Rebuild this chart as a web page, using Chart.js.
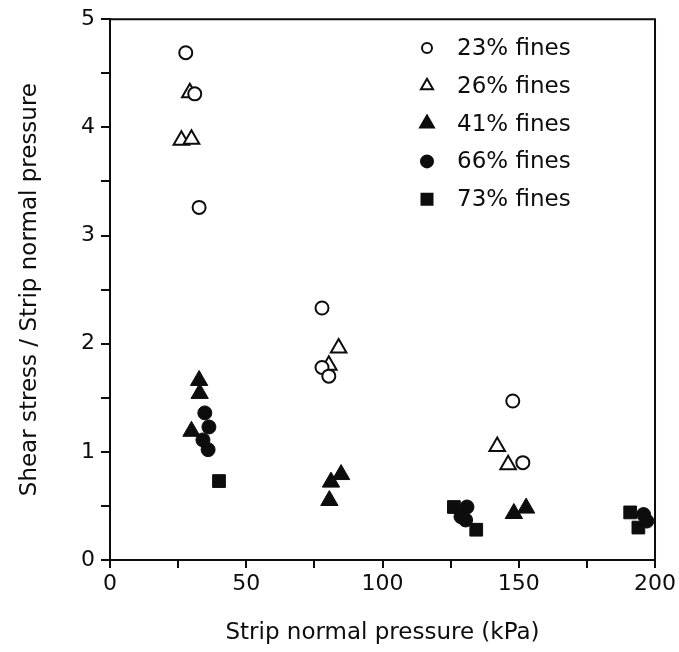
<!DOCTYPE html>
<html>
<head>
<meta charset="utf-8">
<script src="https://cdn.jsdelivr.net/npm/chart.js@4.4.0/dist/chart.umd.min.js"></script>
<style>
  html, body { margin: 0; padding: 0; background: #fff; }
  #wrap { width: 679px; height: 652px; }
</style>
</head>
<body>
<div id="wrap"><canvas id="shearChart" width="679" height="652"></canvas></div>
<script>
// values
const seriesLabels = ["23% fines", "26% fines", "41% fines", "66% fines", "73% fines"];

const fines23X = [27.8, 31.1, 32.7, 77.8, 77.8, 80.3, 147.8, 151.5];
const fines23Y = [4.69, 4.31, 3.26, 2.33, 1.78, 1.70, 1.47, 0.90];

const fines26X = [29.3, 26.2, 29.9, 83.9, 80.3, 142.1, 146.1];
const fines26Y = [4.32, 3.88, 3.89, 1.96, 1.80, 1.05, 0.88];

const fines41X = [32.7, 32.9, 29.9, 84.8, 81.1, 80.5, 148.2, 152.7];
const fines41Y = [1.66, 1.54, 1.19, 0.79, 0.72, 0.55, 0.43, 0.48];

const fines66X = [34.8, 36.3, 34.1, 36.0, 131.0, 128.8, 130.5, 195.8, 197.0];
const fines66Y = [1.36, 1.23, 1.11, 1.02, 0.49, 0.40, 0.37, 0.42, 0.36];

const fines73X = [40.0, 126.2, 134.4, 190.9, 193.9];
const fines73Y = [0.73, 0.49, 0.28, 0.44, 0.30];

const xTickLabels = [0, 50, 100, 150, 200];
const yTickLabels = [0, 1, 2, 3, 4, 5];

const FONT = "'DejaVu Sans', 'Liberation Sans', Arial, sans-serif";
const INK = "#0d0d0d";

const toPoints = (xs, ys) => xs.map((x, i) => ({ x: x, y: ys[i] }));

// legend drawn inside the plot, top right
const innerLegend = {
    id: "innerLegend",
    afterDraw(chart) {
        const ctx = chart.ctx;
        const x0 = 427, xText = 457, y0 = 48, step = 37.8;
        ctx.save();
        ctx.font = "23px " + FONT;
        ctx.textBaseline = "middle";
        chart.data.datasets.forEach((ds, i) => {
            const y = y0 + i * step;
            const hollow = ds.backgroundColor === "#fff";
            ctx.beginPath();
            ctx.lineWidth = 2;
            ctx.strokeStyle = INK;
            ctx.fillStyle = hollow ? "#fff" : INK;
            if (ds.pointStyle === "circle") {
                ctx.arc(x0, y, hollow ? 5 : 6, 0, Math.PI * 2);
            } else if (ds.pointStyle === "triangle") {
                const r = hollow ? 7 : 8;
                ctx.moveTo(x0, y - r);
                ctx.lineTo(x0 + r * 0.866, y + r / 2);
                ctx.lineTo(x0 - r * 0.866, y + r / 2);
                ctx.closePath();
            } else {
                ctx.rect(x0 - 5.5, y - 5.5, 11, 11);
            }
            ctx.fill();
            ctx.stroke();
            ctx.fillStyle = INK;
            ctx.fillText(ds.label, xText, y + 1);
        });
        ctx.restore();
    }
};

// top and right frame lines
const frame = {
    id: "frame",
    beforeDatasetsDraw(chart) {
        const a = chart.chartArea;
        const ctx = chart.ctx;
        ctx.save();
        ctx.strokeStyle = INK;
        ctx.lineWidth = 2;
        ctx.beginPath();
        ctx.moveTo(a.left, a.top);
        ctx.lineTo(a.right, a.top);
        ctx.lineTo(a.right, a.bottom);
        ctx.stroke();
        ctx.restore();
    }
};

const ctx = document.getElementById("shearChart").getContext("2d");

new Chart(ctx, {
    type: "scatter",
    data: {
        datasets: [
            { label: seriesLabels[0], data: toPoints(fines23X, fines23Y), pointStyle: "circle",
              backgroundColor: "#fff", borderColor: INK, borderWidth: 2, pointRadius: 6.5 },
            { label: seriesLabels[1], data: toPoints(fines26X, fines26Y), pointStyle: "triangle",
              backgroundColor: "#fff", borderColor: INK, borderWidth: 2, pointRadius: 9 },
            { label: seriesLabels[2], data: toPoints(fines41X, fines41Y), pointStyle: "triangle",
              backgroundColor: INK, borderColor: INK, borderWidth: 1, pointRadius: 10 },
            { label: seriesLabels[3], data: toPoints(fines66X, fines66Y), pointStyle: "circle",
              backgroundColor: INK, borderColor: INK, borderWidth: 1, pointRadius: 7 },
            { label: seriesLabels[4], data: toPoints(fines73X, fines73Y), pointStyle: "rect",
              backgroundColor: INK, borderColor: INK, borderWidth: 1, pointRadius: 9 }
        ]
    },
    options: {
        responsive: false,
        animation: false,
        layout: { padding: { top: 19, right: 21, left: 0, bottom: 0 } },
        plugins: {
            legend: { display: false },
            tooltip: { enabled: false }
        },
        scales: {
            x: {
                type: "linear",
                min: 0,
                max: 200,
                afterFit: (scale) => { scale.height = 92; },
                ticks: {
                    stepSize: 25,
                    color: INK,
                    font: { family: FONT, size: 22 },
                    padding: 3,
                    maxRotation: 0,
                    callback: (v) => xTickLabels.includes(v) ? String(v) : ""
                },
                grid: { drawOnChartArea: false, drawTicks: true, tickLength: 8, color: INK, lineWidth: 2 },
                border: { display: true, color: INK, width: 2 },
                title: {
                    display: true,
                    text: "Strip normal pressure (kPa)",
                    color: INK,
                    font: { family: FONT, size: 23 },
                    padding: { top: 0, bottom: 5 }
                }
            },
            y: {
                type: "linear",
                min: 0,
                max: 5,
                afterFit: (scale) => { scale.width = 110; },
                ticks: {
                    stepSize: 0.5,
                    color: INK,
                    font: { family: FONT, size: 22 },
                    padding: 6,
                    callback: (v) => yTickLabels.includes(v) ? String(v) : ""
                },
                grid: { drawOnChartArea: false, drawTicks: true, tickLength: 9, color: INK, lineWidth: 2 },
                border: { display: true, color: INK, width: 2 },
                title: {
                    display: true,
                    text: "Shear stress / Strip normal pressure",
                    color: INK,
                    font: { family: FONT, size: 23 },
                    padding: { top: 16, bottom: 0 }
                }
            }
        }
    },
    plugins: [frame, innerLegend]
});
</script>
</body>
</html>
